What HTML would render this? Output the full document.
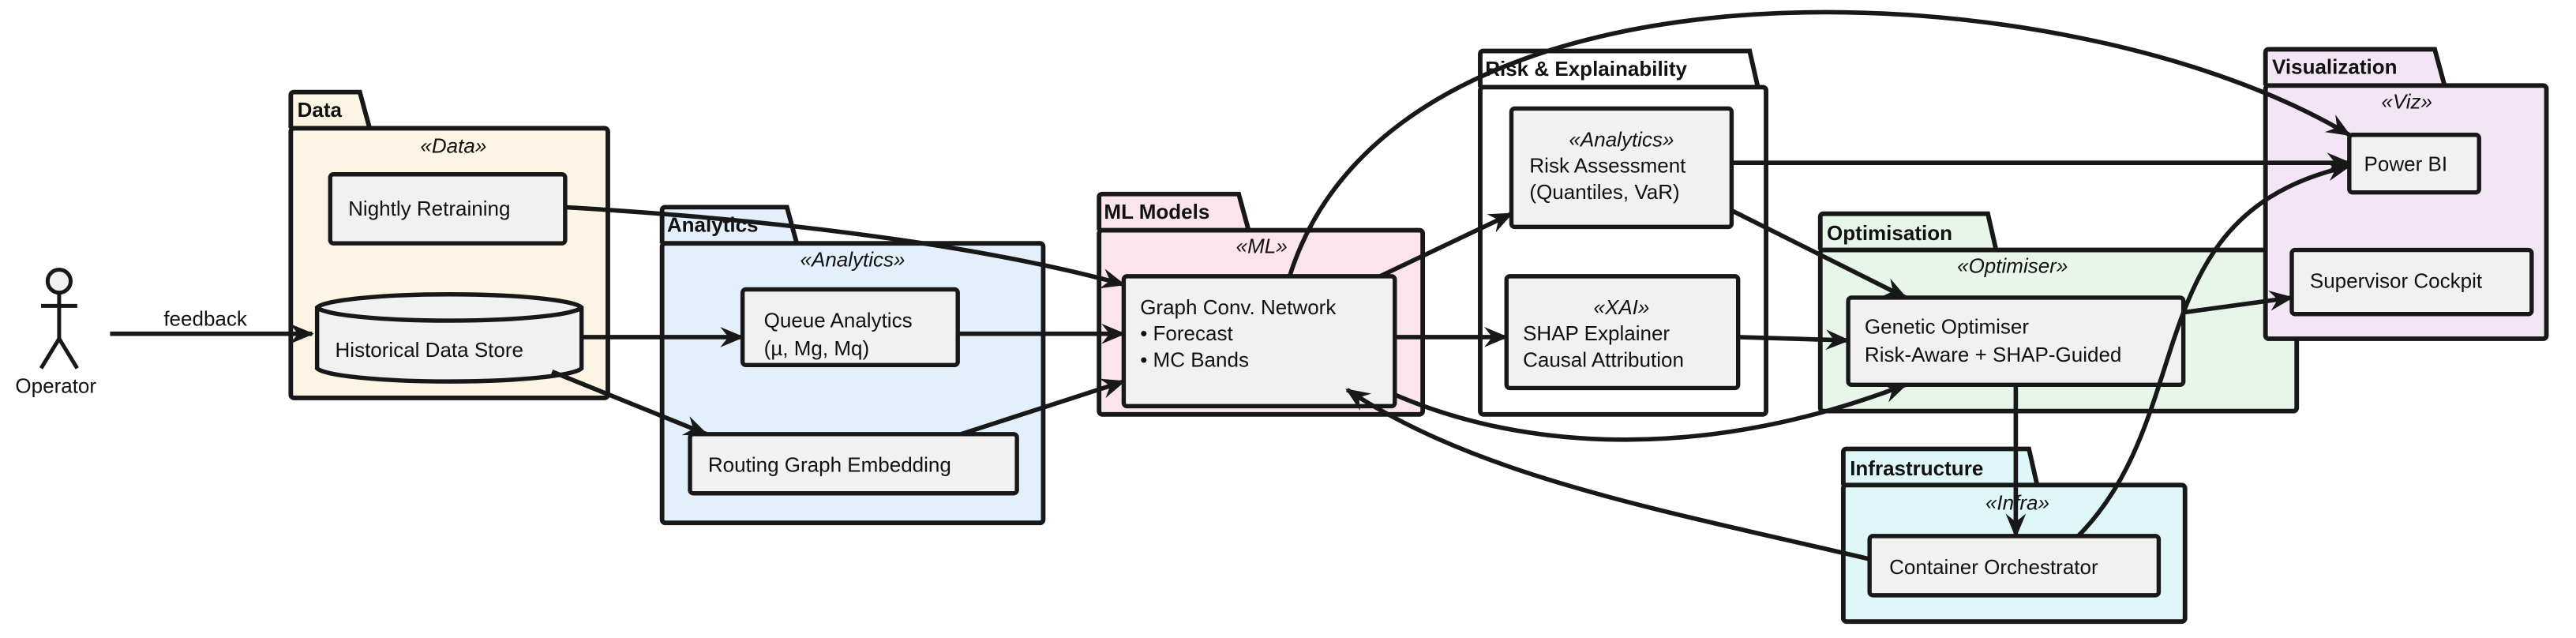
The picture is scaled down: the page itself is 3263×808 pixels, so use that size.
<!DOCTYPE html>
<html><head><meta charset="utf-8"><style>
html,body{margin:0;padding:0;background:#fff;width:3263px;height:808px;overflow:hidden}
svg{display:block}
text{font-family:"Liberation Sans",sans-serif;font-size:12.5px;fill:#111}
.st{font-style:italic;text-anchor:middle}
.pk{font-weight:bold;font-size:12.5px}
.b{fill:#f1f1f1;stroke:#181818;stroke-width:2.6}
.e{fill:none;stroke:#181818;stroke-width:2.7}
</style></head><body>
<svg width="3263" height="808" viewBox="0 0 1568 388" preserveAspectRatio="none" xmlns="http://www.w3.org/2000/svg">
<defs>
<marker id="a" viewBox="0 0 12 10" refX="11" refY="5" markerWidth="5.5" markerHeight="5.5" orient="auto" markerUnits="strokeWidth">
<path d="M0,0 L12,5 L0,10 L4,5 Z" fill="#181818"/>
</marker>
</defs>
<g stroke="#181818" stroke-width="2.4" fill="none">
<circle cx="36" cy="171" r="7" fill="#f1f1f1"/>
<line x1="36" y1="178" x2="36" y2="206"/>
<line x1="25" y1="186" x2="47" y2="186"/>
<line x1="36" y1="206" x2="25" y2="224"/>
<line x1="36" y1="206" x2="47" y2="224"/>
</g>
<text x="34" y="239" text-anchor="middle">Operator</text>
<text x="125" y="198" text-anchor="middle">feedback</text>

<g stroke="#181818" stroke-width="2.8">
<path d="M177,78 V58 Q177,56 179,56 H219 L225,78" fill="#fcf5e3"/>
<rect x="177" y="78" width="193" height="164" rx="2" fill="#fcf5e3"/>
<path d="M403,148 V128 Q403,126 405,126 H479 L485,148" fill="#e3f0fb"/>
<rect x="403" y="148" width="232" height="170" rx="2" fill="#e3f0fb"/>
<path d="M669,140 V120 Q669,118 671,118 H754 L760,140" fill="#fce4ec"/>
<rect x="669" y="140" width="197" height="112" rx="2" fill="#fce4ec"/>
<path d="M901,53 V33 Q901,31 903,31 H1065 L1070,53" fill="#fff"/>
<rect x="901" y="53" width="174" height="199" rx="2" fill="#fff"/>
<path d="M1108,152 V132 Q1108,130 1110,130 H1210 L1215,152" fill="#e8f5e9"/>
<rect x="1108" y="152" width="290" height="98" rx="2" fill="#e8f5e9"/>
<path d="M1122,295 V275 Q1122,273 1124,273 H1235 L1240,295" fill="#e0f7fa"/>
<rect x="1122" y="295" width="208" height="83" rx="2" fill="#e0f7fa"/>
<path d="M1379,52 V32 Q1379,30 1381,30 H1482 L1488,52" fill="#f3e5f5"/>
<rect x="1379" y="52" width="171" height="154" rx="2" fill="#f3e5f5"/>
</g>
<text class="pk" x="181" y="71">Data</text>
<text class="pk" x="406" y="141">Analytics</text>
<text class="pk" x="672" y="133">ML Models</text>
<text class="pk" x="904" y="46">Risk &amp; Explainability</text>
<text class="pk" x="1112" y="146">Optimisation</text>
<text class="pk" x="1126" y="289">Infrastructure</text>
<text class="pk" x="1383" y="45">Visualization</text>
<text class="st" x="276" y="93">«Data»</text>
<text class="st" x="519" y="162">«Analytics»</text>
<text class="st" x="768" y="154">«ML»</text>
<text class="st" x="1225" y="166">«Optimiser»</text>
<text class="st" x="1228" y="310">«Infra»</text>
<text class="st" x="1465" y="66">«Viz»</text>

<rect class="b" x="201" y="106" width="143" height="42" rx="2"/>
<text x="212" y="131">Nightly Retraining</text>
<path class="b" d="M193,187 V224 A81,9 0 0 0 354,224 V187 A81,9 0 0 0 193,187 Z"/>
<path d="M193,187 A81,9 0 0 0 354,187" fill="none" stroke="#181818" stroke-width="2.6"/>
<text x="204" y="217">Historical Data Store</text>
<rect class="b" x="452" y="176" width="131" height="46" rx="2"/>
<text x="465" y="199">Queue Analytics</text>
<text x="465" y="216">(µ, Mg, Mq)</text>
<rect class="b" x="420" y="264" width="199" height="36" rx="2"/>
<text x="431" y="287">Routing Graph Embedding</text>
<rect class="b" x="684" y="168" width="165" height="79" rx="2"/>
<text x="694" y="191">Graph Conv. Network</text>
<text x="694" y="207">• Forecast</text>
<text x="694" y="223">• MC Bands</text>
<rect class="b" x="920" y="66" width="134" height="72" rx="2"/>
<text class="st" x="987" y="89">«Analytics»</text>
<text x="931" y="105">Risk Assessment</text>
<text x="931" y="121">(Quantiles, VaR)</text>
<rect class="b" x="917" y="168" width="141" height="68" rx="2"/>
<text class="st" x="987" y="191">«XAI»</text>
<text x="927" y="207">SHAP Explainer</text>
<text x="927" y="223">Causal Attribution</text>
<rect class="b" x="1125" y="181" width="204" height="53" rx="2"/>
<text x="1135" y="203">Genetic Optimiser</text>
<text x="1135" y="220">Risk-Aware + SHAP-Guided</text>
<rect class="b" x="1138" y="326" width="176" height="36" rx="2"/>
<text x="1150" y="349">Container Orchestrator</text>
<rect class="b" x="1430" y="82" width="79" height="35" rx="2"/>
<text x="1439" y="104">Power BI</text>
<rect class="b" x="1395" y="152" width="146" height="39" rx="2"/>
<text x="1406" y="175">Supervisor Cockpit</text>

<path class="e" d="M67,203 H190" marker-end="url(#a)"/>
<path class="e" d="M344,126 C480,134 600,150 684,173" marker-end="url(#a)"/>
<path class="e" d="M354,205 H452" marker-end="url(#a)"/>
<path class="e" d="M336,226 L430,264" marker-end="url(#a)"/>
<path class="e" d="M583,203 H684" marker-end="url(#a)"/>
<path class="e" d="M585,264 L684,232" marker-end="url(#a)"/>
<path class="e" d="M840,168 L920,130" marker-end="url(#a)"/>
<path class="e" d="M849,205 H917" marker-end="url(#a)"/>
<path class="e" d="M785,168 C850,-40 1260,-20 1430,82" marker-end="url(#a)"/>
<path class="e" d="M1054,99 H1430" marker-end="url(#a)"/>
<path class="e" d="M1054,128 L1160,181" marker-end="url(#a)"/>
<path class="e" d="M1058,205 L1125,207" marker-end="url(#a)"/>
<path class="e" d="M1329,190 L1395,181" marker-end="url(#a)"/>
<path class="e" d="M1227,234 V326" marker-end="url(#a)"/>
<path class="e" d="M849,240 C930,275 1040,280 1160,234" marker-end="url(#a)"/>
<path class="e" d="M1138,340 C1010,310 900,290 820,237" marker-end="url(#a)"/>
<path class="e" d="M1265,326 C1340,250 1300,130 1430,101" marker-end="url(#a)"/>
</svg>
</body></html>
